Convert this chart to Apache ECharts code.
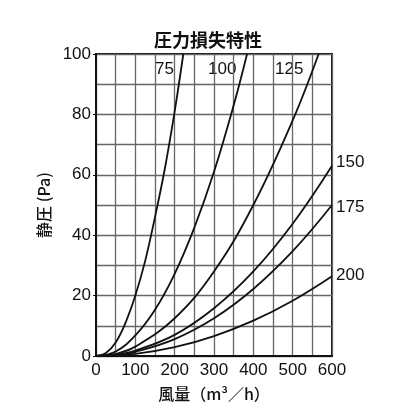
<!DOCTYPE html>
<html>
<head>
<meta charset="utf-8">
<script src="https://cdn.jsdelivr.net/npm/echarts@6/dist/echarts.min.js"></script>
<style>
  html, body { margin: 0; padding: 0; background: #fff; }
  #chart { width: 416px; height: 416px; }
</style>
</head>
<body>
<div id="chart"></div>
<script>
// duct sizes, one curve each
const ductNames = ['75', '100', '125', '150', '175', '200'];

// [airflow m3/h, static pressure Pa]
const curve75 = [[0, 0], [25, 1], [50, 4.5], [75, 11], [100, 20], [125, 31.5], [150, 46], [175, 62], [200, 81], [222, 100]];
const curve100 = [[0, 0], [50, 1.5], [100, 6.8], [150, 15.3], [200, 27.2], [250, 42.5], [300, 61], [350, 83], [384, 100]];
const curve125 = [[0, 0], [50, 0.7], [100, 3.1], [200, 12.5], [300, 28], [400, 50], [500, 78], [566, 100]];
const curve150 = [[0, 0], [50, 0.4], [100, 1.8], [200, 7], [300, 15.8], [400, 28], [500, 43.8], [600, 63]];
const curve175 = [[0, 0], [50, 0.3], [100, 1.4], [200, 5.6], [300, 12.5], [400, 22.2], [500, 34.7], [600, 50]];
const curve200 = [[0, 0], [100, 0.7], [200, 2.9], [300, 6.6], [400, 11.7], [500, 18.3], [600, 26.4]];

const curves = [curve75, curve100, curve125, curve150, curve175, curve200];

const xTicks = [0, 100, 200, 300, 400, 500, 600];
const yTicks = [0, 20, 40, 60, 80, 100];

// where each size label sits
const labelPos = [[155, 61], [208, 61], [275, 61], [336, 154], [336, 199], [336, 267]];

const font = '"Liberation Sans", "Noto Sans CJK JP", sans-serif';
const jpFont = '"Noto Sans CJK JP", sans-serif';

const chart = echarts.init(document.getElementById('chart'));

chart.setOption({
  animation: false,
  backgroundColor: '#fff',
  title: {
    text: '圧力損失特性',
    left: 'center',
    top: 26,
    textStyle: { fontFamily: jpFont, fontSize: 18, fontWeight: 'bold', color: '#111' }
  },
  grid: {
    left: 96, right: 84, top: 54, bottom: 60,
    show: true, borderColor: '#111', borderWidth: 2
  },
  xAxis: {
    type: 'value',
    min: xTicks[0], max: xTicks[xTicks.length - 1], interval: 100,
    name: '風量（m³／h）',
    nameLocation: 'middle',
    nameGap: 30,
    nameTextStyle: { fontFamily: jpFont, fontSize: 16, color: '#111', fontWeight: 500 },
    axisLine: { lineStyle: { color: '#111', width: 2 } },
    axisTick: { show: false },
    axisLabel: { fontFamily: font, fontSize: 17, color: '#111', margin: 6 },
    splitLine: { lineStyle: { color: '#666', width: 1.3 } },
    minorTick: { show: false, splitNumber: 2 },
    minorSplitLine: { show: true, lineStyle: { color: '#666', width: 1.3 } }
  },
  yAxis: {
    type: 'value',
    min: yTicks[0], max: yTicks[yTicks.length - 1], interval: 20,
    name: '静圧 (Pa)',
    nameLocation: 'middle',
    nameGap: 36,
    nameRotate: 90,
    nameTextStyle: { fontFamily: jpFont, fontSize: 16, color: '#111', fontWeight: 500 },
    axisLine: { lineStyle: { color: '#111', width: 2 } },
    axisTick: { show: true, length: 3, lineStyle: { color: '#111' } },
    axisLabel: { fontFamily: font, fontSize: 17, color: '#111', margin: 5 },
    splitLine: { lineStyle: { color: '#666', width: 1.3 } },
    minorTick: { show: false, splitNumber: 2 },
    minorSplitLine: { show: true, lineStyle: { color: '#666', width: 1.3 } }
  },
  series: curves.map((d, i) => ({
    name: ductNames[i],
    type: 'line',
    data: d,
    smooth: 0.4,
    showSymbol: false,
    lineStyle: { color: '#111', width: 1.8 }
  })),
  graphic: ductNames.map((n, i) => ({
    type: 'text',
    left: labelPos[i][0],
    top: labelPos[i][1],
    style: { text: n, font: '17px ' + font, fill: '#111' }
  }))
});
</script>
</body>
</html>
